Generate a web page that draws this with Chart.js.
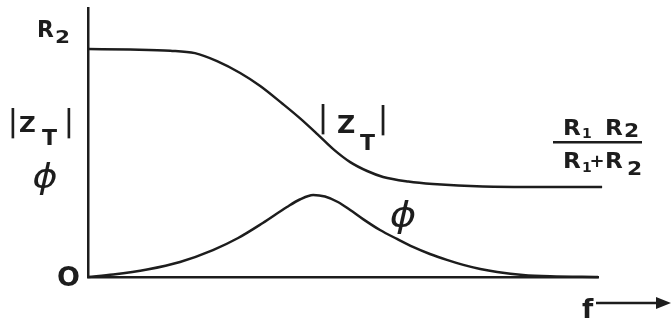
<!DOCTYPE html>
<html>
<head>
<meta charset="utf-8">
<script src="https://cdn.jsdelivr.net/npm/chart.js@4/dist/chart.umd.min.js"></script>
<style>
  html, body { margin: 0; padding: 0; background: #ffffff; }
  canvas { display: block; }
</style>
</head>
<body>
<canvas id="c" width="671" height="320"></canvas>
<script>
// Impedance magnitude |Z_T| (in units of R2) against frequency (arbitrary 0–100 scale)
const zFreq = [0, 8.2, 16.0, 20.8, 25.1, 29.6, 33.5, 37.9, 41.2, 44.6, 47.7, 51.0, 54.3, 57.4, 62.3, 67.1, 76.8, 87.9, 100];
const zMag  = [1.0, 0.998, 0.993, 0.982, 0.947, 0.895, 0.838, 0.759, 0.697, 0.627, 0.561, 0.504, 0.465, 0.439, 0.419, 0.408, 0.397, 0.395, 0.395];

// Phase angle φ (same vertical units) against frequency
const phFreq  = [0, 4.9, 11.5, 17.9, 24.3, 29.2, 34.0, 38.7, 41.2, 43.8, 46.1, 48.6, 51.0, 53.5, 56.8, 60.1, 63.2, 66.5, 69.8, 73.0, 76.3, 79.6, 84.6, 89.9, 99.2];
const phAngle = [0, 0.011, 0.033, 0.066, 0.118, 0.171, 0.237, 0.307, 0.340, 0.360, 0.353, 0.329, 0.294, 0.254, 0.206, 0.167, 0.132, 0.101, 0.075, 0.053, 0.035, 0.022, 0.009, 0.003, 0];

const INK = '#1d1d1d';
const FONT = '"DejaVu Sans"';

function toPoints(xs, ys) { return xs.map((x, i) => ({ x: x, y: ys[i] })); }

// draw one glyph run, optionally stretched horizontally
function glyph(ctx, s, x, y, size, opt) {
  opt = opt || {};
  ctx.save();
  ctx.font = (opt.style || '') + ' ' + (opt.weight || 'bold') + ' ' + size + 'px ' + FONT;
  ctx.textAlign = opt.align || 'left';
  ctx.textBaseline = 'alphabetic';
  ctx.fillStyle = INK;
  ctx.translate(x, y);
  ctx.scale(opt.sx || 1, 1);
  ctx.fillText(s, 0, 0);
  ctx.restore();
}

const labelPlugin = {
  id: 'diagramLabels',
  afterDraw(chart) {
    const ctx = chart.ctx;
    const ca = chart.chartArea;
    const L = ca.left, B = ca.bottom;
    const yR2 = chart.scales.y.getPixelForValue(zMag[0]);

    // vertical axis labels
    glyph(ctx, 'R', L - 51, yR2 - 12, 23, { sx: 0.95 });
    glyph(ctx, '2', L - 33, yR2 - 6, 18, { sx: 1.2 });

    glyph(ctx, '|', L - 75, 131, 30, { align: 'center', sx: 0.8 });
    glyph(ctx, 'Z', L - 69, 132, 22, { sx: 1.05 });
    glyph(ctx, 'T', L - 46, 145, 21, { sx: 1.05 });
    glyph(ctx, '|', L - 19, 131, 30, { align: 'center', sx: 0.8 });

    glyph(ctx, 'ϕ', L - 43, 188, 33, { align: 'center', style: 'italic', sx: 1.15, weight: 'normal' });
    glyph(ctx, 'O', L - 31, B + 9, 27);

    // curve labels
    glyph(ctx, '|', 323, 127, 31, { align: 'center', sx: 0.8 });
    glyph(ctx, 'Z', 337, 133, 24, { sx: 1.05 });
    glyph(ctx, 'T', 360, 150, 22, { sx: 1.0 });
    glyph(ctx, '|', 383, 128, 31, { align: 'center', sx: 0.8 });
    glyph(ctx, 'ϕ', 403, 227, 35, { align: 'center', style: 'italic', sx: 1.15, weight: 'normal' });

    // R1 R2 / (R1 + R2)
    glyph(ctx, 'R', 563, 135, 21, { sx: 1.1 });
    glyph(ctx, '1', 582, 138, 14);
    glyph(ctx, 'R', 605, 135, 21, { sx: 1.1 });
    glyph(ctx, '2', 624, 137, 19, { sx: 1.15 });
    ctx.save();
    ctx.fillStyle = INK;
    ctx.fillRect(553, 141, 89, 2.5);
    ctx.restore();
    glyph(ctx, 'R', 563, 168, 21, { sx: 1.1 });
    glyph(ctx, '1', 582, 172, 14);
    glyph(ctx, '+', 597, 167, 18, { align: 'center' });
    glyph(ctx, 'R', 605, 168, 21, { sx: 1.1 });
    glyph(ctx, '2', 627, 175, 19, { sx: 1.15 });

    // frequency axis caption with arrow
    glyph(ctx, 'f', 582, 318, 26);
    ctx.save();
    ctx.strokeStyle = INK;
    ctx.fillStyle = INK;
    ctx.lineWidth = 2.5;
    ctx.beginPath();
    ctx.moveTo(596, 303);
    ctx.lineTo(660, 303);
    ctx.stroke();
    ctx.beginPath();
    ctx.moveTo(656, 297);
    ctx.lineTo(671, 303);
    ctx.lineTo(656, 309);
    ctx.closePath();
    ctx.fill();
    ctx.restore();
  }
};

const lineStyle = {
  borderColor: INK,
  borderWidth: 2.5,
  pointRadius: 0,
  fill: false,
  cubicInterpolationMode: 'monotone',
  clip: false
};

new Chart(document.getElementById('c'), {
  type: 'line',
  data: {
    datasets: [
      Object.assign({ label: '|Z_T|', data: toPoints(zFreq, zMag) }, lineStyle),
      Object.assign({ label: 'φ', data: toPoints(phFreq, phAngle) }, lineStyle)
    ]
  },
  options: {
    responsive: false,
    devicePixelRatio: 1,
    animation: false,
    layout: { padding: { left: 88, top: 8, right: 73, bottom: 43 } },
    plugins: { legend: { display: false }, tooltip: { enabled: false } },
    scales: {
      x: {
        type: 'linear', min: 0, max: 99.2,
        grid: { display: false, drawTicks: false, tickLength: 0 },
        ticks: { display: false },
        border: { display: true, color: INK, width: 2.5 }
      },
      y: {
        type: 'linear', min: 0, max: 1.18,
        grid: { display: false, drawTicks: false, tickLength: 0 },
        ticks: { display: false },
        border: { display: true, color: INK, width: 2.5 }
      }
    }
  },
  plugins: [labelPlugin]
});
</script>
</body>
</html>
